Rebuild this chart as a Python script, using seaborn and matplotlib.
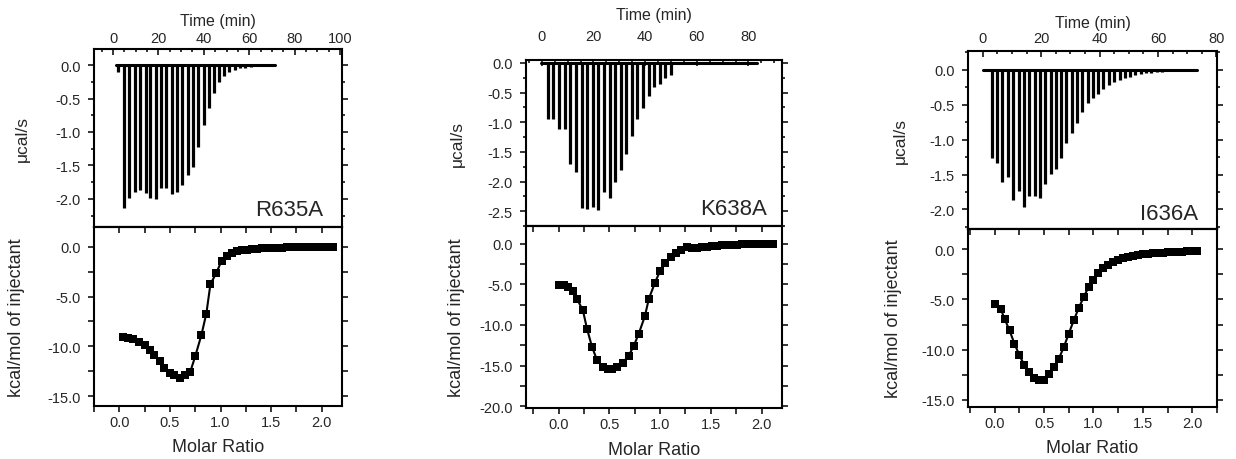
import pandas as pd
import seaborn as sns
import matplotlib.pyplot as plt
from matplotlib.ticker import MultipleLocator, FormatStrFormatter

# ---- R635A ----
r635a_time = [2.2, 4.9, 7.1, 9.6, 11.8, 14.3, 16.5, 18.8, 21.3, 23.5,
              26.0, 28.2, 30.6, 32.9, 35.3, 37.6, 39.9, 42.2, 44.4, 46.8,
              49.0, 51.3, 53.7, 56.0, 58.3, 60.6, 62.9, 65.2, 67.5]
r635a_peak = [-0.11, -2.14, -1.98, -1.89, -1.87, -1.91, -1.98, -2.00, -1.83, -1.84,
              -1.93, -1.90, -1.79, -1.64, -1.53, -1.22, -0.90, -0.64, -0.42, -0.25,
              -0.16, -0.11, -0.07, -0.05, -0.04, -0.03, -0.02, -0.02, -0.01]
r635a_base = [1.5, 71.3]
r635a_ratio = [0.04, 0.09, 0.14, 0.19, 0.25, 0.30, 0.34, 0.40, 0.44, 0.50,
               0.54, 0.60, 0.65, 0.70, 0.75, 0.81, 0.86, 0.90, 0.96, 1.01,
               1.06, 1.11, 1.16, 1.21, 1.26, 1.31, 1.36, 1.41, 1.46, 1.51,
               1.56, 1.61, 1.66, 1.71, 1.76, 1.81, 1.86, 1.91, 1.96, 2.01,
               2.06, 2.11]
r635a_heat = [-9.03, -9.13, -9.30, -9.56, -9.90, -10.37, -10.87, -11.50, -12.20, -12.65,
              -12.90, -13.15, -12.90, -12.60, -11.00, -8.90, -6.70, -3.76, -2.58, -1.41,
              -0.90, -0.57, -0.40, -0.33, -0.27, -0.22, -0.18, -0.15, -0.12, -0.10,
              -0.08, -0.07, -0.06, -0.05, -0.04, -0.04, -0.03, -0.03, -0.02, -0.02,
              -0.02, -0.01]

# ---- K638A ----
k638a_time = [2.3, 4.5, 6.7, 8.9, 11.1, 13.3, 15.5, 17.5, 19.7, 21.9,
              24.1, 26.3, 28.4, 30.6, 32.8, 35.0, 37.0, 39.2, 41.4, 43.6,
              45.8, 47.9, 49.9]
k638a_peak = [-0.95, -0.95, -1.12, -1.11, -1.70, -1.84, -2.44, -2.47, -2.43, -2.48,
              -2.17, -2.27, -2.01, -1.81, -1.53, -1.23, -0.95, -0.76, -0.55, -0.41,
              -0.35, -0.25, -0.21]
k638a_base = [-0.4, 83.2]
k638a_ratio = [0.00, 0.05, 0.09, 0.14, 0.18, 0.24, 0.28, 0.33, 0.38, 0.44,
               0.49, 0.53, 0.58, 0.63, 0.69, 0.74, 0.79, 0.85, 0.89, 0.95,
               1.00, 1.05, 1.11, 1.16, 1.21, 1.26, 1.31, 1.36, 1.41, 1.46,
               1.51, 1.56, 1.61, 1.66, 1.71, 1.76, 1.81, 1.86, 1.91, 1.96,
               2.01, 2.06, 2.11]
k638a_heat = [-5.04, -5.12, -5.40, -5.86, -6.76, -8.20, -10.45, -12.70, -14.34, -15.16,
              -15.37, -15.37, -15.16, -14.67, -13.80, -12.60, -11.07, -8.93, -6.76, -4.80,
              -3.36, -2.38, -1.64, -1.15, -0.75, -0.45, -0.60, -0.52, -0.45, -0.39,
              -0.33, -0.28, -0.24, -0.20, -0.17, -0.14, -0.12, -0.10, -0.08, -0.07,
              -0.06, -0.05, -0.04]

# ---- I636A ----
i636a_time = [3.1, 4.8, 6.7, 8.5, 10.3, 12.3, 14.1, 15.9, 17.7, 19.5,
              21.3, 23.2, 25.0, 26.8, 28.6, 30.4, 32.2, 34.1, 35.9, 37.7,
              39.5, 41.3, 43.1, 44.9, 46.8, 48.6, 50.4, 52.2, 54.0, 55.8,
              57.6, 59.5, 61.3, 63.1, 64.9, 66.7, 68.5]
i636a_peak = [-1.27, -1.34, -1.60, -1.54, -1.87, -1.73, -1.97, -1.81, -1.81, -1.84,
              -1.64, -1.49, -1.42, -1.26, -1.05, -0.90, -0.76, -0.61, -0.47, -0.40,
              -0.35, -0.28, -0.22, -0.18, -0.145, -0.116, -0.097, -0.072, -0.058, -0.05,
              -0.04, -0.03, -0.025, -0.02, -0.02, -0.015, -0.01]
i636a_base = [0.2, 73.5]
i636a_ratio = [0.00, 0.06, 0.10, 0.15, 0.20, 0.25, 0.30, 0.35, 0.40, 0.45,
               0.50, 0.55, 0.60, 0.65, 0.70, 0.75, 0.80, 0.85, 0.90, 0.95,
               1.00, 1.05, 1.10, 1.15, 1.20, 1.25, 1.30, 1.35, 1.40, 1.45,
               1.50, 1.55, 1.60, 1.65, 1.70, 1.75, 1.80, 1.85, 1.90, 1.95,
               2.00, 2.05]
i636a_heat = [-5.44, -5.93, -6.92, -8.08, -9.40, -10.55, -11.54, -12.26, -12.80, -13.02,
              -13.02, -12.46, -11.70, -10.88, -9.73, -8.40, -7.09, -5.87, -4.78, -3.79,
              -3.03, -2.41, -1.91, -1.55, -1.25, -1.05, -0.90, -0.78, -0.68, -0.60,
              -0.53, -0.47, -0.42, -0.38, -0.34, -0.31, -0.28, -0.26, -0.24, -0.22,
              -0.20, -0.19]

sns.set_theme(style='ticks')
plt.rcParams['font.family'] = ['Liberation Sans', 'DejaVu Sans']
plt.rcParams['axes.unicode_minus'] = False
plt.rcParams['axes.linewidth'] = 1.5
plt.rcParams['axes.edgecolor'] = 'black'

W, H = 1236, 460
fig = plt.figure(figsize=(W / 100, H / 100), dpi=100)


def box(l, r, t, b):
    return [l / W, 1 - b / H, (r - l) / W, (b - t) / H]


# layout in pixels: left, right, top, middle, bottom
panels = [
    dict(name='R635A', time=r635a_time, peak=r635a_peak, base=r635a_base,
         ratio=r635a_ratio, heat=r635a_heat,
         px=(94, 342, 50, 228, 407), tlim=(-8.4, 100.9), ylim1=(-2.42, 0.24),
         ylim2=(-16.0, 2.0), rlim=(-0.25, 2.2), tpad=3, tlab=1.135,
         ylab1=-0.258, ylab2=-0.278, name_xy=(0.923, 0.07)),
    dict(name='K638A', time=k638a_time, peak=k638a_peak, base=k638a_base,
         ratio=k638a_ratio, heat=k638a_heat,
         px=(526, 782, 61, 227, 409), tlim=(-6.1, 93.0), ylim1=(-2.75, 0.05),
         ylim2=(-20.2, 2.15), rlim=(-0.32, 2.2), tpad=12, tlab=1.247,
         ylab1=-0.238, ylab2=-0.238, name_xy=(0.94, 0.075)),
    dict(name='I636A', time=i636a_time, peak=i636a_peak, base=i636a_base,
         ratio=i636a_ratio, heat=i636a_heat,
         px=(968, 1217, 52, 230, 408), tlim=(-5.1, 80.2), ylim1=(-2.28, 0.27),
         ylim2=(-15.7, 2.0), rlim=(-0.27, 2.25), tpad=4, tlab=1.135,
         ylab1=-0.241, ylab2=-0.265, name_xy=(0.924, 0.056)),
]

for p in panels:
    l, r, t, m, b = p['px']

    # raw thermogram
    ax1 = fig.add_axes(box(l, r, t, m))
    base = pd.DataFrame({'t': p['base'], 'y': [0.0] * len(p['base'])})
    sns.lineplot(data=base, x='t', y='y', color='black', lw=2.2, ax=ax1)
    ax1.vlines(p['time'], p['peak'], 0, color='black', lw=2.3)
    ax1.set_xlim(*p['tlim'])
    ax1.set_ylim(*p['ylim1'])
    ax1.xaxis.tick_top()
    ax1.xaxis.set_label_position('top')
    ax1.xaxis.set_major_locator(MultipleLocator(20))
    ax1.xaxis.set_minor_locator(MultipleLocator(5))
    ax1.yaxis.set_major_locator(MultipleLocator(0.5))
    ax1.yaxis.set_minor_locator(MultipleLocator(0.25))
    ax1.yaxis.set_major_formatter(FormatStrFormatter('%.1f'))
    ax1.tick_params(axis='x', which='both', direction='in', top=True, bottom=False,
                    labeltop=True, labelbottom=False, pad=p['tpad'])
    ax1.tick_params(axis='y', which='both', direction='out', left=True, right=True, pad=5)
    ax1.tick_params(which='major', length=4.5, width=1.3, labelsize=10.5)
    ax1.tick_params(which='minor', length=2.5, width=1.3)
    ax1.set_xlabel('Time (min)', fontsize=11.5)
    ax1.xaxis.set_label_coords(0.5, p['tlab'])
    ax1.set_ylabel('μcal/s', fontsize=12.5)
    ax1.yaxis.set_label_coords(p['ylab1'], 0.5)
    ax1.text(*p['name_xy'], p['name'], transform=ax1.transAxes, ha='right',
             va='baseline', fontsize=16)

    # integrated heats
    ax2 = fig.add_axes(box(l, r, m, b))
    iso = pd.DataFrame({'ratio': p['ratio'], 'heat': p['heat']})
    sns.lineplot(data=iso, x='ratio', y='heat', color='black', lw=1.5,
                 marker='s', markersize=5.5, markeredgewidth=0, ax=ax2)
    ax2.set_xlim(*p['rlim'])
    ax2.set_ylim(*p['ylim2'])
    ax2.xaxis.set_major_locator(MultipleLocator(0.5))
    ax2.xaxis.set_minor_locator(MultipleLocator(0.25))
    ax2.xaxis.set_major_formatter(FormatStrFormatter('%.1f'))
    ax2.yaxis.set_major_locator(MultipleLocator(5))
    ax2.yaxis.set_minor_locator(MultipleLocator(2.5))
    ax2.yaxis.set_major_formatter(FormatStrFormatter('%.1f'))
    ax2.tick_params(axis='x', which='both', direction='out', bottom=True, top=False, pad=2)
    ax2.tick_params(axis='y', which='both', direction='out', left=True, right=True, pad=5)
    ax2.tick_params(which='major', length=4.5, width=1.3, labelsize=10.5)
    ax2.tick_params(which='minor', length=4.5, width=1.3)
    sec = ax2.secondary_xaxis('top')
    sec.xaxis.set_major_locator(MultipleLocator(0.25))
    sec.tick_params(direction='in', length=4.5, width=1.3, labeltop=False)
    ax2.set_xlabel('Molar Ratio', fontsize=13)
    ax2.xaxis.set_label_coords(0.5, -0.18)
    ax2.set_ylabel('kcal/mol of injectant', fontsize=13)
    ax2.yaxis.set_label_coords(p['ylab2'], 0.5)

fig.savefig('out.png', dpi=100)
